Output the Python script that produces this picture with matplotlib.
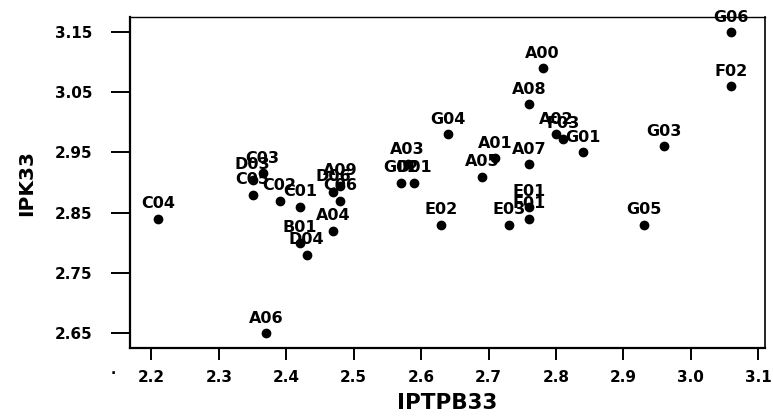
import matplotlib.pyplot as plt

# punto, IPTPB33, IPK33
etiquetas = ["G06", "F02", "A00", "A08", "A02", "F03", "G01", "G03", "G05",
             "G04", "A01", "A05", "A07", "A03", "G02", "D01", "E02", "E03",
             "E01", "F01", "C04", "A06", "C03", "D03", "C05", "C02", "C01",
             "A09", "D06", "C06", "A04", "B01", "D04"]
iptpb33 = [3.06, 3.06, 2.78, 2.76, 2.80, 2.81, 2.84, 2.96, 2.93,
           2.64, 2.71, 2.69, 2.76, 2.58, 2.57, 2.59, 2.63, 2.73,
           2.76, 2.76, 2.21, 2.37, 2.365, 2.35, 2.35, 2.39, 2.42,
           2.48, 2.47, 2.48, 2.47, 2.42, 2.43]
ipk33 = [3.15, 3.06, 3.09, 3.03, 2.98, 2.973, 2.95, 2.96, 2.83,
         2.98, 2.94, 2.91, 2.93, 2.93, 2.90, 2.90, 2.83, 2.83,
         2.86, 2.84, 2.84, 2.65, 2.915, 2.905, 2.88, 2.87, 2.86,
         2.895, 2.885, 2.87, 2.82, 2.80, 2.78]

xticks = [2.2, 2.3, 2.4, 2.5, 2.6, 2.7, 2.8, 2.9, 3.0, 3.1]
yticks = [2.65, 2.75, 2.85, 2.95, 3.05, 3.15]

plt.rcParams['font.family'] = ['DejaVu Sans']
plt.rcParams['font.weight'] = 'bold'

fig = plt.figure(figsize=(7.73, 4.16), dpi=100)
ax = fig.add_axes([0.168, 0.1635, 0.8217, 0.7955])

ax.scatter(iptpb33, ipk33, s=36, color='black', zorder=3)
for et, x, y in zip(etiquetas, iptpb33, ipk33):
    ax.annotate(et, (x, y), xytext=(0, 7.5), textcoords='offset points',
                ha='center', va='baseline', fontsize=11.5, fontweight='bold',
                zorder=4)

ax.set_xlim(2.168, 3.110)
ax.set_ylim(2.625, 3.175)
ax.set_xticks(xticks)
ax.set_xticklabels([f"{v:.1f}" for v in xticks])
ax.set_yticks(yticks)
ax.set_yticklabels([f"{v:.2f}" for v in yticks])

ax.tick_params(axis='y', direction='out', length=14, width=1.4, pad=13,
               labelsize=11)
ax.tick_params(axis='x', direction='out', length=8.5, width=1.4, pad=7,
               labelsize=11)
for lab in ax.get_xticklabels() + ax.get_yticklabels():
    lab.set_fontweight('bold')

ax.spines['left'].set_linewidth(1.6)
ax.spines['bottom'].set_linewidth(1.6)
ax.spines['top'].set_linewidth(1.0)
ax.spines['right'].set_linewidth(1.2)

ax.set_xlabel("IPTPB33", fontsize=15.5, fontweight='bold', labelpad=6)
ax.set_ylabel("IPK33", fontsize=14.5, fontweight='bold', labelpad=13)

fig.text(0.146, 0.10, ".", fontsize=10, ha='center')

fig.savefig("out.png", dpi=100)
